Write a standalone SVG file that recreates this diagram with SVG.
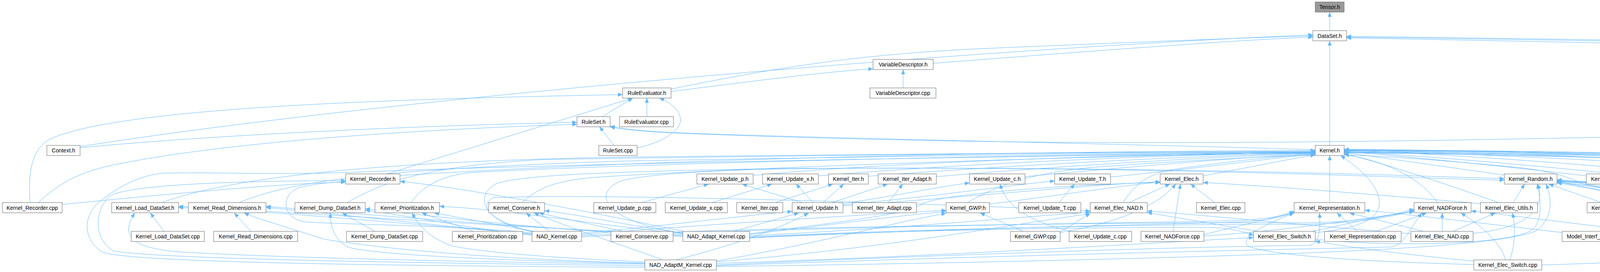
<svg xmlns="http://www.w3.org/2000/svg" width="6471" height="696" viewBox="0 0 6471 696">
<defs>
<marker id="a" viewBox="0 0 12 10" refX="12" refY="5" markerWidth="12" markerHeight="10" markerUnits="userSpaceOnUse" orient="auto"><path d="M0,0L12,5L0,10z" fill="#63b8ff"/></marker>
</defs>
<style>
.e{fill:none;stroke:#63b8ff;stroke-width:1;marker-end:url(#a)}
.n rect{fill:#ffffff;stroke:#666666;stroke-width:1}
.n.hl rect{fill:#999999}
.n text{font-family:"Liberation Sans",Arial,sans-serif;font-size:14px;text-anchor:middle;fill:#000000}
</style>
<rect width="6471" height="696" fill="#ffffff"/>
<g id="edges">
<path class="e" d="M3404,78.5 L3404,31"/>
<path class="e" d="M3404,372 L3404,104.5"/>
<path class="e" d="M2389,162 C2800,130 3200,100 3361,95"/>
<path class="e" d="M2312,225 L2312,178"/>
<path class="e" d="M1718,228 C2000,170 2200,140 2500,125 C2900,108 3200,96 3361,92"/>
<path class="e" d="M1718,234 C1950,205 2100,185 2235,176"/>
<path class="e" d="M205,375 C1000,250 2500,125 3361,89"/>
<path class="e" d="M205,378 C600,340 1200,318 1477,313"/>
<path class="e" d="M77,518.5 C72,440 80,380 130,355 C300,280 900,255 1594,242"/>
<path class="e" d="M98,518.5 C150,470 200,440 300,420 C600,360 1100,330 1477,318"/>
<path class="e" d="M159,523 C400,500 700,470 885,466"/>
<path class="e" d="M1542,298.5 L1620,251"/>
<path class="e" d="M1656,298.5 L1656,251"/>
<path class="e" d="M1572,372 L1535,324.5"/>
<path class="e" d="M1631,378 C1700,365 1745,330 1742,305 C1740,280 1715,262 1688,251"/>
<path class="e" d="M990,445 L1619,251"/>
<path class="e" d="M3367,383 C2800,366 2000,352 1700,338 C1620,333 1590,328 1562,323"/>
<path class="e" d="M5888,518.5 C5830,440 5650,390 5400,358 C5100,330 4700,330 4400,344 C3800,360 3000,372 2400,360 C2000,352 1750,342 1680,338 C1620,334 1590,330 1562,325"/>
<path class="e" d="M1024,449 C1800,400 2800,386 3367,385"/>
<path class="e" d="M414,518.5 C600,450 1000,412 1600,402 C2500,392 3100,388 3367,387"/>
<path class="e" d="M612,518.5 C750,460 1000,432 1600,412 C2500,396 3100,390 3367,389"/>
<path class="e" d="M888,518.5 C960,480 1050,425 1400,408 C2300,394 3000,389 3367,388"/>
<path class="e" d="M1052,518.5 C1080,480 1120,452 1200,442 C1700,414 2800,393 3367,390"/>
<path class="e" d="M1336,518.5 C1380,480 1420,460 1550,452 C2000,424 2900,396 3367,391"/>
<path class="e" d="M1928,449 C2300,412 3000,393 3367,389"/>
<path class="e" d="M2095,450 C2500,416 3000,396 3367,390"/>
<path class="e" d="M2223,451 C2600,422 3050,399 3367,391"/>
<path class="e" d="M2397,452 C2700,426 3100,401 3367,392"/>
<path class="e" d="M2624,452 C2900,426 3200,401 3367,393"/>
<path class="e" d="M2843,453 C3050,432 3250,406 3367,394"/>
<path class="e" d="M3080,450 C3200,428 3300,407 3367,396"/>
<path class="e" d="M2476,518.5 C2560,470 2650,442 2800,428 C3100,406 3300,398 3367,397"/>
<path class="e" d="M2875,518.5 C2900,480 2930,447 3000,434 C3150,412 3300,397 3367,395"/>
<path class="e" d="M1651,684 C1000,680 330,672 262,645 C215,615 210,560 250,520 C320,462 380,446 420,443 C550,440 700,448 900,441 C1500,416 2800,396 3367,392"/>
<path class="e" d="M3404,518.5 L3404,398"/>
<path class="e" d="M3367,595 C3450,588 3520,570 3530,530 C3540,480 3480,430 3432,398"/>
<path class="e" d="M3680,518.5 C3640,460 3560,415 3441,395"/>
<path class="e" d="M3836,518.5 C3700,470 3550,420 3441,393"/>
<path class="e" d="M3851,448 L3441,390"/>
<path class="e" d="M4061,450 C3800,420 3600,400 3441,388"/>
<path class="e" d="M4176,449 C3900,420 3600,396 3441,387"/>
<path class="e" d="M4357,448 C4000,416 3700,393 3441,386"/>
<path class="e" d="M4638,447 C4200,411 3700,391 3441,385"/>
<path class="e" d="M4857,447 C4300,406 3800,389 3441,384"/>
<path class="e" d="M5152,447 C4500,406 3900,386 3441,383"/>
<path class="e" d="M4460,518.5 C4350,500 4100,485 4050,470 C4020,455 3980,440 3900,430 C3700,410 3550,400 3441,396"/>
<path class="e" d="M5133,518.5 C5080,480 5000,442 4800,427 C4300,406 3800,393 3441,390"/>
<path class="e" d="M5473,518.5 C5430,480 5300,442 5100,428 C4500,404 3800,391 3441,389"/>
<path class="e" d="M5625,518.5 C5550,480 5400,452 5200,442 C4500,412 3800,393 3441,391"/>
<path class="e" d="M5713,449 C5000,411 4000,389 3441,384"/>
<path class="e" d="M5872,449 C5100,409 4000,388 3441,383"/>
<path class="e" d="M6067,449 C5300,406 4000,387 3441,382"/>
<path class="e" d="M6172,518.5 C6100,470 6000,452 5800,441 C5000,412 4000,393 3441,386"/>
<path class="e" d="M6375,518.5 C6300,462 6200,437 6000,427 C5200,401 4000,389 3441,383"/>
<path class="e" d="M6362,154 C5800,130 4500,106 3447,93"/>
<path class="e" d="M6203,518.5 C6220,450 6224,300 6224,240 C6224,200 6180,185 6100,178 C5500,140 4200,110 3447,97"/>
<path class="e" d="M6390,518.5 C6340,450 6325,350 6325,240 C6325,190 6300,155 6220,143 C6100,135 6000,155 5900,150 C5200,125 4200,104 3447,95"/>
<path class="e" d="M1362,598 C1000,570 700,540 457,531"/>
<path class="e" d="M1362,600 C1100,575 850,546 681,531"/>
<path class="e" d="M1362,602 C1200,585 1050,552 935,538"/>
<path class="e" d="M1367,592 L1112,545"/>
<path class="e" d="M1407,592 L1347,545"/>
<path class="e" d="M1362,596 C1200,578 900,575 780,568 C720,556 720,502 760,482 C800,470 850,466 885,465"/>
<path class="e" d="M1489,597 C1700,578 1900,552 2028,541"/>
<path class="e" d="M1489,600 C1800,575 2200,550 2422,538"/>
<path class="e" d="M1365,594 C1240,562 1230,522 1262,506 C1500,494 2400,520 2791,540"/>
<path class="e" d="M1362,593 C1230,566 1215,500 1270,470 C1330,450 1500,440 2000,431 C3000,425 3600,450 3851,457"/>
<path class="e" d="M1489,603 C2000,578 3000,568 3300,570 C3500,572 3580,545 3620,535"/>
<path class="e" d="M1489,606 C2000,582 2900,570 3150,565 C3250,562 3290,550 3313,540"/>
<path class="e" d="M1748,601 C1200,575 700,540 457,528"/>
<path class="e" d="M1748,603 C1300,580 900,546 681,528"/>
<path class="e" d="M1748,605 C1400,590 1100,552 935,534"/>
<path class="e" d="M1748,598 C1500,572 1300,536 1125,528"/>
<path class="e" d="M1748,596 C1600,576 1500,552 1394,539"/>
<path class="e" d="M1750,592 C1500,540 1200,482 1024,464"/>
<path class="e" d="M1878,592 L2045,545"/>
<path class="e" d="M1919,600 C2100,578 2300,552 2422,541"/>
<path class="e" d="M1919,603 C2300,585 2600,556 2791,543"/>
<path class="e" d="M1919,606 C2400,583 3100,572 3300,574 C3500,575 3585,548 3620,538"/>
<path class="e" d="M1919,609 C2400,586 2950,574 3150,569 C3250,566 3292,552 3313,543"/>
<path class="e" d="M1750,597 C1520,562 1520,482 1600,460 C1700,440 1900,433 2100,431 C3000,426 3600,456 3851,461"/>
<path class="e" d="M1919,608 C2300,588 2900,580 3100,582 C3160,584 3190,595 3209,603"/>
<path class="e" d="M1919,598 C2200,562 2330,546 2360,522 C2420,492 2800,470 2970,467"/>
<path class="e" d="M1651,676 C1300,672 700,660 450,644 C330,632 310,600 345,545"/>
<path class="e" d="M1651,673 C1300,665 1000,640 830,612 C730,580 660,560 625,545"/>
<path class="e" d="M1651,674 C1300,668 950,652 890,632 C855,612 845,580 846,545"/>
<path class="e" d="M1651,670 C1400,660 1200,642 1150,627 C1090,602 1070,572 1055,545"/>
<path class="e" d="M1697,665 C1600,630 1450,580 1367,545"/>
<path class="e" d="M1651,680 C1000,672 400,662 290,642 C240,612 240,542 280,502 C330,472 600,463 885,462"/>
<path class="e" d="M1730,665 C1900,622 2000,582 2070,545"/>
<path class="e" d="M1834,668 C2100,622 2300,566 2422,546"/>
<path class="e" d="M1834,670 C2300,632 2600,572 2791,547"/>
<path class="e" d="M1834,678 C2500,648 3100,630 3350,628 C3378,626 3380,590 3378,545"/>
<path class="e" d="M1834,680 C2500,655 3200,640 3560,632 C3595,628 3605,590 3640,545"/>
<path class="e" d="M1834,682 C2600,672 3100,656 3300,649 C3600,637 3850,622 3930,592 C3975,562 3975,512 3958,471"/>
<path class="e" d="M1834,674 C2500,652 3000,618 3209,608"/>
<path class="e" d="M1212,592 L1080,545"/>
<path class="e" d="M1595,592 L1380,545"/>
<path class="e" d="M960,592 L876,545"/>
<path class="e" d="M420,592 L385,545"/>
<path class="e" d="M642,592 L600,545"/>
<path class="e" d="M1642,518.5 L1814,471"/>
<path class="e" d="M1823,518.5 L1976,471"/>
<path class="e" d="M1984,518.5 L2132,471"/>
<path class="e" d="M2274,518.5 L2311,471"/>
<path class="e" d="M2054,518.5 L1900,471"/>
<path class="e" d="M2082,518.5 L2038,471"/>
<path class="e" d="M2107,518.5 L2160,471"/>
<path class="e" d="M2130,518.5 L2272,471"/>
<path class="e" d="M2158,521 C2300,500 2400,478 2482,468"/>
<path class="e" d="M2158,524 C2400,502 2600,472 2700,463"/>
<path class="e" d="M2158,527 C2500,502 2800,472 2970,465"/>
<path class="e" d="M2740,592 C2620,562 2575,522 2560,471"/>
<path class="e" d="M2711,518.5 L2751,471"/>
<path class="e" d="M2620,592 L2509,545"/>
<path class="e" d="M2714,595 C2850,572 2960,532 3010,471"/>
<path class="e" d="M2714,594 L2791,546"/>
<path class="e" d="M2890,518.5 L2995,471"/>
<path class="e" d="M3110,518.5 L3048,471"/>
<path class="e" d="M3003,592 L3022,471"/>
<path class="e" d="M3082,600 L3313,544"/>
<path class="e" d="M3082,604 C3300,590 3520,556 3620,540"/>
<path class="e" d="M2533,522 C2700,502 2850,477 2970,466"/>
<path class="e" d="M3220,592 L2937,544"/>
<path class="e" d="M3360,592 C3450,572 3550,550 3620,542"/>
<path class="e" d="M3367,612 C3550,632 3850,628 3920,590 C3950,570 3945,510 3935,471"/>
<path class="e" d="M3773,668 C3600,652 3450,632 3367,617"/>
<path class="e" d="M3855,665 C3840,622 3800,582 3740,545"/>
<path class="e" d="M3865,665 C3880,622 3880,582 3872,545"/>
<path class="e" d="M3773,677 C3600,672 3300,662 3200,632 C3165,612 3230,577 3313,545"/>
<path class="e" d="M3947,678 C4150,672 4450,660 4560,635 C4630,615 4640,575 4596,559 C4540,546 4450,546 4400,540 C4200,510 4050,474 3986,466"/>
<path class="e" d="M3475,592 L3423,545"/>
<path class="e" d="M3523,592 L3652,545"/>
<path class="e" d="M3644,592 L3455,545"/>
<path class="e" d="M3692,592 L3692,545"/>
<path class="e" d="M3720,592 L3828,545"/>
<path class="e" d="M3771,597 C3900,585 3960,540 3937,471"/>
<path class="e" d="M3612,598 C3400,582 3100,552 2937,540"/>
<path class="e" d="M3874,518.5 L3903,471"/>
<path class="e" d="M3790,521 C3500,496 3250,476 3080,467"/>
<path class="e" d="M4100,518.5 L3965,471"/>
<path class="e" d="M4142,592 C4220,562 4240,522 4200,506 C4120,482 4050,472 3986,466"/>
<path class="e" d="M4296,592 C4282,552 4262,522 4222,507 C4122,482 4052,472 3986,467"/>
<path class="e" d="M4441,522 C4300,500 4100,476 3986,462"/>
<path class="e" d="M4631,522 C4400,496 4100,472 3986,461"/>
<path class="e" d="M4850,522 C4500,496 4150,470 3986,460"/>
<path class="e" d="M4488,592 C4420,562 4200,502 3986,468"/>
<path class="e" d="M5418,521 C5000,496 4300,476 3986,463"/>
<path class="e" d="M5603,522 C5000,491 4300,473 3986,464"/>
<path class="e" d="M5847,520 C5300,495 4400,478 3986,465"/>
<path class="e" d="M4170,592 C4300,572 4400,556 4458,545"/>
<path class="e" d="M4399,596 C4700,572 4950,546 5057,536"/>
<path class="e" d="M4603,600 C5000,582 5300,552 5418,539"/>
<path class="e" d="M3999,595 C3800,572 3600,548 3494,538"/>
<path class="e" d="M4210,592 C4000,570 3850,548 3766,540"/>
<path class="e" d="M4702,518.5 L4702,471"/>
<path class="e" d="M4916,518.5 L4916,471"/>
<path class="e" d="M5161,518.5 L5196,471"/>
<path class="e" d="M5449,518.5 L5245,471"/>
<path class="e" d="M5310,518.5 L5228,471"/>
<path class="e" d="M5083,596 C4950,565 4870,548 4830,530 C4790,512 4750,495 4723,471"/>
<path class="e" d="M5130,592 C5060,542 4990,502 4940,471"/>
<path class="e" d="M5150,592 L5150,544.5"/>
<path class="e" d="M5207,592 L5431,545"/>
<path class="e" d="M5083,599 C4900,576 4700,552 4606,541"/>
<path class="e" d="M5218,594 C5400,566 5520,549 5603,541"/>
<path class="e" d="M5218,601 C5600,597 6100,582 6262,553 C6300,536 6262,496 6182,471"/>
<path class="e" d="M5780,518.5 L5765,471"/>
<path class="e" d="M5871,518.5 L5786,471"/>
<path class="e" d="M5902,518.5 L5925,471"/>
<path class="e" d="M5934,518.5 L6082,471"/>
<path class="e" d="M6020,518.5 L5955,471"/>
<path class="e" d="M6152,518.5 L5980,471"/>
<path class="e" d="M6182,518.5 L6140,471"/>
<path class="e" d="M6334,520 C6200,496 6050,476 5992,467"/>
<path class="e" d="M6357,518.5 L6178,471"/>
</g>
<g id="n-Tensor_h" class="n hl"><rect x="3367" y="5" width="74" height="26"/><text x="3404" y="23">Tensor.h</text></g>
<g id="n-DataSet_h" class="n"><rect x="3361" y="78.5" width="86" height="26"/><text x="3404" y="96.5">DataSet.h</text></g>
<g id="n-VariableDescriptor_h" class="n"><rect x="2235" y="152" width="154" height="26"/><text x="2312" y="170">VariableDescriptor.h</text></g>
<g id="n-DataSet_cpp" class="n"><rect x="6362" y="152" width="102" height="26"/><text x="6413" y="170">DataSet.cpp</text></g>
<g id="n-RuleEvaluator_h" class="n"><rect x="1594" y="225" width="124" height="26"/><text x="1656" y="243">RuleEvaluator.h</text></g>
<g id="n-VariableDescriptor_cpp" class="n"><rect x="2227" y="225" width="169" height="26"/><text x="2311.5" y="243">VariableDescriptor.cpp</text></g>
<g id="n-RuleSet_h" class="n"><rect x="1477" y="298.5" width="85" height="26"/><text x="1519.5" y="316.5">RuleSet.h</text></g>
<g id="n-RuleEvaluator_cpp" class="n"><rect x="1586" y="298.5" width="138" height="26"/><text x="1655" y="316.5">RuleEvaluator.cpp</text></g>
<g id="n-Context_h" class="n"><rect x="120" y="372" width="85" height="26"/><text x="162.5" y="390">Context.h</text></g>
<g id="n-RuleSet_cpp" class="n"><rect x="1533" y="372" width="98" height="26"/><text x="1582" y="390">RuleSet.cpp</text></g>
<g id="n-Kernel_h" class="n"><rect x="3367" y="372" width="74" height="26"/><text x="3404" y="390">Kernel.h</text></g>
<g id="n-Kernel_Recorder_h" class="n"><rect x="885" y="445" width="139" height="26"/><text x="954.5" y="463">Kernel_Recorder.h</text></g>
<g id="n-Kernel_Update_p_h" class="n"><rect x="1784" y="445" width="144" height="26"/><text x="1856" y="463">Kernel_Update_p.h</text></g>
<g id="n-Kernel_Update_x_h" class="n"><rect x="1952" y="445" width="143" height="26"/><text x="2023.5" y="463">Kernel_Update_x.h</text></g>
<g id="n-Kernel_Iter_h" class="n"><rect x="2121" y="445" width="102" height="26"/><text x="2172" y="463">Kernel_Iter.h</text></g>
<g id="n-Kernel_Iter_Adapt_h" class="n"><rect x="2248" y="445" width="149" height="26"/><text x="2322.5" y="463">Kernel_Iter_Adapt.h</text></g>
<g id="n-Kernel_Update_c_h" class="n"><rect x="2482" y="445" width="142" height="26"/><text x="2553" y="463">Kernel_Update_c.h</text></g>
<g id="n-Kernel_Update_T_h" class="n"><rect x="2700" y="445" width="143" height="26"/><text x="2771.5" y="463">Kernel_Update_T.h</text></g>
<g id="n-Kernel_Elec_h" class="n"><rect x="2970" y="445" width="110" height="26"/><text x="3025" y="463">Kernel_Elec.h</text></g>
<g id="n-Kernel_Random_h" class="n"><rect x="3851" y="445" width="135" height="26"/><text x="3918.5" y="463">Kernel_Random.h</text></g>
<g id="n-Kernel_cpp" class="n"><rect x="4061" y="445" width="91" height="26"/><text x="4106.5" y="463">Kernel.cpp</text></g>
<g id="n-Kernel_Thermostat_h" class="n"><rect x="4176" y="445" width="157" height="26"/><text x="4254.5" y="463">Kernel_Thermostat.h</text></g>
<g id="n-Model_Hello_h" class="n"><rect x="4357" y="445" width="115" height="26"/><text x="4414.5" y="463">Model_Hello.h</text></g>
<g id="n-Model_NAD1D_h" class="n"><rect x="4638" y="445" width="128" height="26"/><text x="4702" y="463">Model_NAD1D.h</text></g>
<g id="n-Model_LVCM_h" class="n"><rect x="4857" y="445" width="118" height="26"/><text x="4916" y="463">Model_LVCM.h</text></g>
<g id="n-Model_Bath_h" class="n"><rect x="5152" y="445" width="111" height="26"/><text x="5207.5" y="463">Model_Bath.h</text></g>
<g id="n-Handler_h" class="n"><rect x="5713" y="445" width="83" height="26"/><text x="5754.5" y="463">Handler.h</text></g>
<g id="n-SolverFactory_h" class="n"><rect x="5872" y="445" width="120" height="26"/><text x="5932" y="463">SolverFactory.h</text></g>
<g id="n-ModelFactory_h" class="n"><rect x="6067" y="445" width="119" height="26"/><text x="6126.5" y="463">ModelFactory.h</text></g>
<g id="n-Kernel_Recorder_cpp" class="n"><rect x="6" y="518.5" width="153" height="26"/><text x="82.5" y="536.5">Kernel_Recorder.cpp</text></g>
<g id="n-Kernel_Load_DataSet_h" class="n"><rect x="286" y="518.5" width="171" height="26"/><text x="371.5" y="536.5">Kernel_Load_DataSet.h</text></g>
<g id="n-Kernel_Read_Dimensions_h" class="n"><rect x="482" y="518.5" width="199" height="26"/><text x="581.5" y="536.5">Kernel_Read_Dimensions.h</text></g>
<g id="n-Kernel_Dump_DataSet_h" class="n"><rect x="755" y="518.5" width="180" height="26"/><text x="845" y="536.5">Kernel_Dump_DataSet.h</text></g>
<g id="n-Kernel_Prioritization_h" class="n"><rect x="960" y="518.5" width="165" height="26"/><text x="1042.5" y="536.5">Kernel_Prioritization.h</text></g>
<g id="n-Kernel_Conserve_h" class="n"><rect x="1251" y="518.5" width="143" height="26"/><text x="1322.5" y="536.5">Kernel_Conserve.h</text></g>
<g id="n-Kernel_Update_p_cpp" class="n"><rect x="1520" y="518.5" width="159" height="26"/><text x="1599.5" y="536.5">Kernel_Update_p.cpp</text></g>
<g id="n-Kernel_Update_x_cpp" class="n"><rect x="1703" y="518.5" width="159" height="26"/><text x="1782.5" y="536.5">Kernel_Update_x.cpp</text></g>
<g id="n-Kernel_Iter_cpp" class="n"><rect x="1886" y="518.5" width="118" height="26"/><text x="1945" y="536.5">Kernel_Iter.cpp</text></g>
<g id="n-Kernel_Update_h" class="n"><rect x="2028" y="518.5" width="130" height="26"/><text x="2093" y="536.5">Kernel_Update.h</text></g>
<g id="n-Kernel_Iter_Adapt_cpp" class="n"><rect x="2182" y="518.5" width="164" height="26"/><text x="2264" y="536.5">Kernel_Iter_Adapt.cpp</text></g>
<g id="n-Kernel_GWP_h" class="n"><rect x="2422" y="518.5" width="111" height="26"/><text x="2477.5" y="536.5">Kernel_GWP.h</text></g>
<g id="n-Kernel_Update_T_cpp" class="n"><rect x="2608" y="518.5" width="159" height="26"/><text x="2687.5" y="536.5">Kernel_Update_T.cpp</text></g>
<g id="n-Kernel_Elec_NAD_h" class="n"><rect x="2791" y="518.5" width="146" height="26"/><text x="2864" y="536.5">Kernel_Elec_NAD.h</text></g>
<g id="n-Kernel_Elec_cpp" class="n"><rect x="3063" y="518.5" width="124" height="26"/><text x="3125" y="536.5">Kernel_Elec.cpp</text></g>
<g id="n-Kernel_Representation_h" class="n"><rect x="3313" y="518.5" width="181" height="26"/><text x="3403.5" y="536.5">Kernel_Representation.h</text></g>
<g id="n-Kernel_NADForce_h" class="n"><rect x="3620" y="518.5" width="146" height="26"/><text x="3693" y="536.5">Kernel_NADForce.h</text></g>
<g id="n-Kernel_Elec_Utils_h" class="n"><rect x="3790" y="518.5" width="146" height="26"/><text x="3863" y="536.5">Kernel_Elec_Utils.h</text></g>
<g id="n-Kernel_Random_cpp" class="n"><rect x="4063" y="518.5" width="150" height="26"/><text x="4138" y="536.5">Kernel_Random.cpp</text></g>
<g id="n-Model_Interf_MNDO_h" class="n"><rect x="4441" y="518.5" width="165" height="26"/><text x="4523.5" y="536.5">Model_Interf_MNDO.h</text></g>
<g id="n-Model_NAD1D_cpp" class="n"><rect x="4631" y="518.5" width="143" height="26"/><text x="4702.5" y="536.5">Model_NAD1D.cpp</text></g>
<g id="n-Model_LVCM_cpp" class="n"><rect x="4850" y="518.5" width="132" height="26"/><text x="4916" y="536.5">Model_LVCM.cpp</text></g>
<g id="n-Model_ElectronTransfer_h" class="n"><rect x="5057" y="518.5" width="186" height="26"/><text x="5150" y="536.5">Model_ElectronTransfer.h</text></g>
<g id="n-Model_Bath_cpp" class="n"><rect x="5267" y="518.5" width="126" height="26"/><text x="5330" y="536.5">Model_Bath.cpp</text></g>
<g id="n-Model_SystemBath_h" class="n"><rect x="5418" y="518.5" width="161" height="26"/><text x="5498.5" y="536.5">Model_SystemBath.h</text></g>
<g id="n-Model_MD1D_h" class="n"><rect x="5603" y="518.5" width="122" height="26"/><text x="5664" y="536.5">Model_MD1D.h</text></g>
<g id="n-main_cc" class="n"><rect x="5748" y="518.5" width="73" height="26"/><text x="5784.5" y="536.5">main.cc</text></g>
<g id="n-Handler_cpp" class="n"><rect x="5847" y="518.5" width="98" height="26"/><text x="5896" y="536.5">Handler.cpp</text></g>
<g id="n-SolverFactory_cpp" class="n"><rect x="5970" y="518.5" width="135" height="26"/><text x="6037.5" y="536.5">SolverFactory.cpp</text></g>
<g id="n-libpykids_v1_cpp" class="n"><rect x="6130" y="518.5" width="130" height="26"/><text x="6195" y="536.5">libpykids_v1.cpp</text></g>
<g id="n-libpykids_v2_cpp" class="n"><rect x="6334" y="518.5" width="132" height="26"/><text x="6400" y="536.5">libpykids_v2.cpp</text></g>
<g id="n-Kernel_Load_DataSet_cpp" class="n"><rect x="336" y="592" width="187" height="26"/><text x="429.5" y="610">Kernel_Load_DataSet.cpp</text></g>
<g id="n-Kernel_Read_Dimensions_cpp" class="n"><rect x="547" y="592" width="215" height="26"/><text x="654.5" y="610">Kernel_Read_Dimensions.cpp</text></g>
<g id="n-Kernel_Dump_DataSet_cpp" class="n"><rect x="887" y="592" width="195" height="26"/><text x="984.5" y="610">Kernel_Dump_DataSet.cpp</text></g>
<g id="n-Kernel_Prioritization_cpp" class="n"><rect x="1158" y="592" width="180" height="26"/><text x="1248" y="610">Kernel_Prioritization.cpp</text></g>
<g id="n-NAD_Kernel_cpp" class="n"><rect x="1362" y="592" width="127" height="26"/><text x="1425.5" y="610">NAD_Kernel.cpp</text></g>
<g id="n-Kernel_Conserve_cpp" class="n"><rect x="1564" y="592" width="159" height="26"/><text x="1643.5" y="610">Kernel_Conserve.cpp</text></g>
<g id="n-NAD_Adapt_Kernel_cpp" class="n"><rect x="1748" y="592" width="171" height="26"/><text x="1833.5" y="610">NAD_Adapt_Kernel.cpp</text></g>
<g id="n-Kernel_GWP_cpp" class="n"><rect x="2587" y="592" width="127" height="26"/><text x="2650.5" y="610">Kernel_GWP.cpp</text></g>
<g id="n-Kernel_Update_c_cpp" class="n"><rect x="2737" y="592" width="160" height="26"/><text x="2817" y="610">Kernel_Update_c.cpp</text></g>
<g id="n-Kernel_NADForce_cpp" class="n"><rect x="2921" y="592" width="161" height="26"/><text x="3001.5" y="610">Kernel_NADForce.cpp</text></g>
<g id="n-Kernel_Elec_Switch_h" class="n"><rect x="3209" y="592" width="158" height="26"/><text x="3288" y="610">Kernel_Elec_Switch.h</text></g>
<g id="n-Kernel_Representation_cpp" class="n"><rect x="3391" y="592" width="196" height="26"/><text x="3489" y="610">Kernel_Representation.cpp</text></g>
<g id="n-Kernel_Elec_NAD_cpp" class="n"><rect x="3612" y="592" width="159" height="26"/><text x="3691.5" y="610">Kernel_Elec_NAD.cpp</text></g>
<g id="n-Model_Interf_MNDO_cpp" class="n"><rect x="3999" y="592" width="179" height="26"/><text x="4088.5" y="610">Model_Interf_MNDO.cpp</text></g>
<g id="n-Model_ElectronTransfer_cpp" class="n"><rect x="4204" y="592" width="195" height="26"/><text x="4301.5" y="610">Model_ElectronTransfer.cpp</text></g>
<g id="n-Model_SystemBath_cpp" class="n"><rect x="4428" y="592" width="175" height="26"/><text x="4515.5" y="610">Model_SystemBath.cpp</text></g>
<g id="n-ModelFactory_cpp" class="n"><rect x="5083" y="592" width="135" height="26"/><text x="5150.5" y="610">ModelFactory.cpp</text></g>
<g id="n-NAD_AdaptM_Kernel_cpp" class="n"><rect x="1651" y="665" width="183" height="26"/><text x="1742.5" y="683">NAD_AdaptM_Kernel.cpp</text></g>
<g id="n-Kernel_Elec_Switch_cpp" class="n"><rect x="3773" y="665" width="174" height="26"/><text x="3860" y="683">Kernel_Elec_Switch.cpp</text></g>
</svg>
